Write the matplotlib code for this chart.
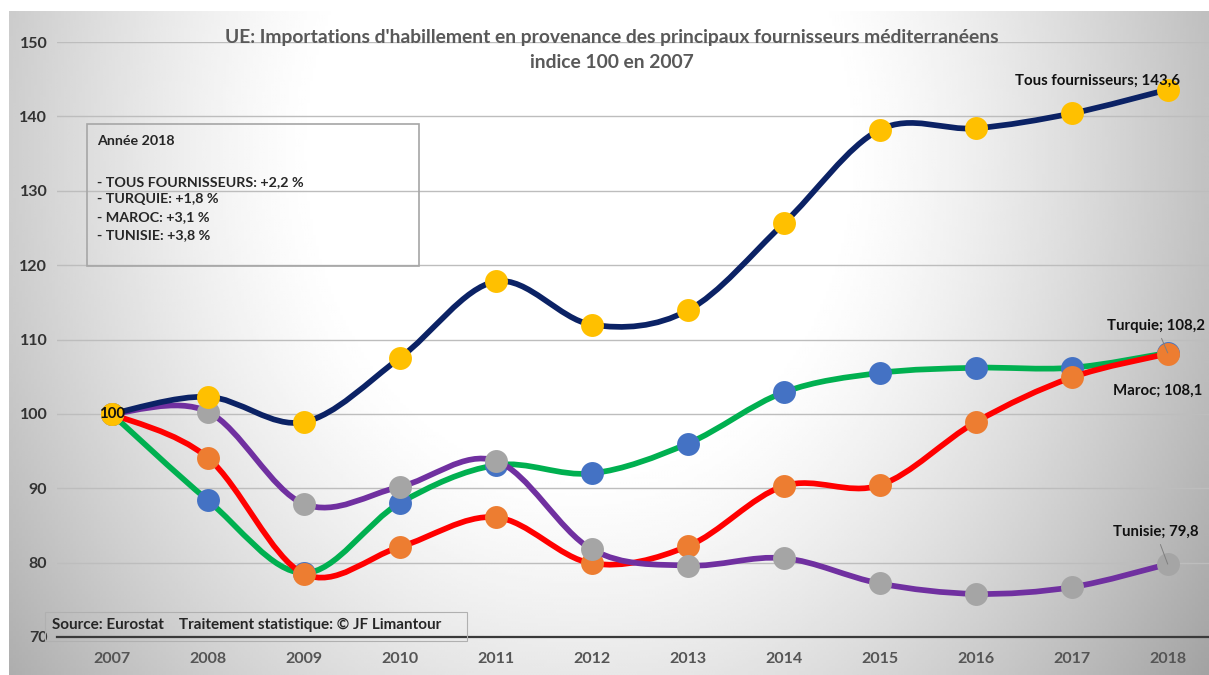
import numpy as np
import matplotlib
matplotlib.use("Agg")
import matplotlib.pyplot as plt
from matplotlib.path import Path
from matplotlib.patches import PathPatch, Rectangle

# ---------------- data ----------------
years = [2007, 2008, 2009, 2010, 2011, 2012, 2013, 2014, 2015, 2016, 2017, 2018]
tous = [100, 102.3, 98.9, 107.5, 117.8, 112.0, 113.9, 125.6, 138.2, 138.4, 140.4, 143.6]
turquie = [100, 88.4, 78.6, 88.0, 93.1, 92.0, 96.0, 102.9, 105.5, 106.2, 106.2, 108.2]
maroc = [100, 94.1, 78.5, 82.1, 86.1, 79.9, 82.2, 90.3, 90.4, 98.9, 104.9, 108.1]
tunisie = [100, 100.3, 87.9, 90.2, 93.7, 81.8, 79.6, 80.6, 77.2, 75.8, 76.7, 79.8]
yticks = [70, 80, 90, 100, 110, 120, 130, 140, 150]

title1 = "UE: Importations d'habillement en provenance des principaux fournisseurs méditerranéens"
title2 = "indice 100 en 2007"
box_lines = ["Année 2018", "", "- TOUS FOURNISSEURS: +2,2 %", "- TURQUIE: +1,8 %",
             "- MAROC: +3,1 %", "- TUNISIE: +3,8 %"]
source = "Source: Eurostat    Traitement statistique: © JF Limantour"

FONT = "Lato"
W, H = 1209, 675
fig = plt.figure(figsize=(W / 100, H / 100), dpi=100, facecolor="white")


def fx(x):
    return x / W


def fy(y):
    return 1 - y / H


# ---------------- background gradient ----------------
bg = fig.add_axes([fx(9), 0, 1 - fx(9), fy(11)], zorder=-10)
gx = np.linspace(9, W, 400)
gy = np.linspace(11, H, 250)
X, Y = np.meshgrid(gx, gy)
r = np.sqrt(((X - 580) / 580) ** 2 + ((Y - 150) / 700) ** 2)
b = 1 - 0.2 * np.clip((r - 0.45) / 0.55, 0, None) ** 1.3
bg.imshow(b, cmap="gray", vmin=0, vmax=1, aspect="auto", interpolation="bilinear")
bg.axis("off")

# ---------------- main axes ----------------
ax = fig.add_axes([fx(57), fy(637), 1 - fx(57), fy(42) - fy(637)])
ax.patch.set_alpha(0)
ax.set_xlim(2006.43, 2018.43)
ax.set_ylim(70, 150)
ax.set_yticks(yticks)
ax.set_xticks(years)
ax.set_xticklabels([str(y) for y in years])
ax.grid(axis="y", color="#BDBDBD", lw=1.0)
ax.set_axisbelow(True)
for s in ["top", "right", "left"]:
    ax.spines[s].set_visible(False)
ax.spines["bottom"].set_color("#3A3A3A")
ax.spines["bottom"].set_linewidth(1.6)
ax.spines["bottom"].set_zorder(1)
ax.tick_params(axis="both", length=0)
ax.tick_params(axis="y", pad=7)
ax.tick_params(axis="x", pad=11)
for lab in ax.get_yticklabels():
    lab.set_fontfamily(FONT); lab.set_fontweight("bold"); lab.set_fontsize(11.5); lab.set_color("#333333")
for lab in ax.get_xticklabels():
    lab.set_fontfamily(FONT); lab.set_fontweight("bold"); lab.set_fontsize(11.5); lab.set_color("#555555")


def smooth_path(xs, ys, t=1 / 6):
    pts = np.column_stack([xs, ys]).astype(float)
    n = len(pts)
    verts = [pts[0]]
    codes = [Path.MOVETO]
    for i in range(n - 1):
        p0 = pts[i - 1] if i > 0 else pts[i]
        p1 = pts[i]
        p2 = pts[i + 1]
        p3 = pts[i + 2] if i + 2 < n else pts[i + 1]
        c1 = p1 + (p2 - p0) * t
        c2 = p2 - (p3 - p1) * t
        verts += [c1, c2, p2]
        codes += [Path.CURVE4] * 3
    return Path(verts, codes)


series = [
    (turquie, "#00B050", "#4472C4", 3),
    (maroc, "#FF0000", "#ED7D31", 4),
    (tunisie, "#7030A0", "#A5A5A5", 5),
    (tous, "#0B2265", "#FFC000", 6),
]
for vals, lc, mc, z in series:
    ax.add_patch(PathPatch(smooth_path(years, vals), fill=False, ec=lc, lw=4.1,
                           zorder=z, capstyle="round", joinstyle="round"))
    ax.plot(years, vals, ls="none", marker="o", ms=16.5, mfc=mc, mec="none", zorder=z + 0.5)

# ---------------- data labels ----------------
lab_kw = dict(fontfamily=FONT, fontweight="bold", fontsize=10.8, color="#111111", zorder=10)
ax.text(years[0], tous[0], "100", ha="center", va="center", **lab_kw)
ax.text(2018.125, 144.8, f"Tous fournisseurs; {str(tous[-1]).replace('.', ',')}",
        ha="right", va="center", **lab_kw)
ax.annotate(f"Turquie; {str(turquie[-1]).replace('.', ',')}", xy=(years[-1], turquie[-1]),
            xytext=(2017.37, 111.8), ha="left", va="center", annotation_clip=False,
            arrowprops=dict(arrowstyle="-", color="#7F7F7F", lw=0.7, shrinkA=2, shrinkB=0),
            **lab_kw)
ax.text(2017.43, 103.1, f"Maroc; {str(maroc[-1]).replace('.', ',')}", ha="left", va="center",
        clip_on=False, **lab_kw)
ax.annotate(f"Tunisie; {str(tunisie[-1]).replace('.', ',')}", xy=(years[-1], tunisie[-1]),
            xytext=(2017.43, 84.1), ha="left", va="center", annotation_clip=False,
            arrowprops=dict(arrowstyle="-", color="#7F7F7F", lw=0.7, shrinkA=2, shrinkB=0),
            **lab_kw)

# ---------------- title ----------------
fig.text(fx(612), fy(37), title1, ha="center", va="center", fontfamily=FONT,
         fontweight="bold", fontsize=13.9, color="#595959")
fig.text(fx(612), fy(62), title2, ha="center", va="center", fontfamily=FONT,
         fontweight="bold", fontsize=13.9, color="#595959")

# ---------------- info box ----------------
fig.add_artist(Rectangle((fx(87), fy(266)), fx(419) - fx(87), fy(124) - fy(266),
                         transform=fig.transFigure, fill=False, ec="#A6A6A6", lw=1.2))
line_y = [141, 161, 182, 199, 217, 235]
for txt, yy in zip(box_lines, line_y):
    if txt:
        fig.text(fx(97), fy(yy), txt, ha="left", va="center", fontfamily=FONT,
                 fontweight="bold", fontsize=10.3, color="#262626")

# ---------------- source box ----------------
fig.add_artist(Rectangle((fx(45), fy(641)), fx(467) - fx(45), fy(612) - fy(641),
                         transform=fig.transFigure, fill=False, ec="#B0B0B0", lw=0.8))
fig.text(fx(52), fy(625), source, ha="left", va="center", fontfamily=FONT,
         fontweight="bold", fontsize=11, color="#262626")

fig.savefig("out.png", dpi=100)
